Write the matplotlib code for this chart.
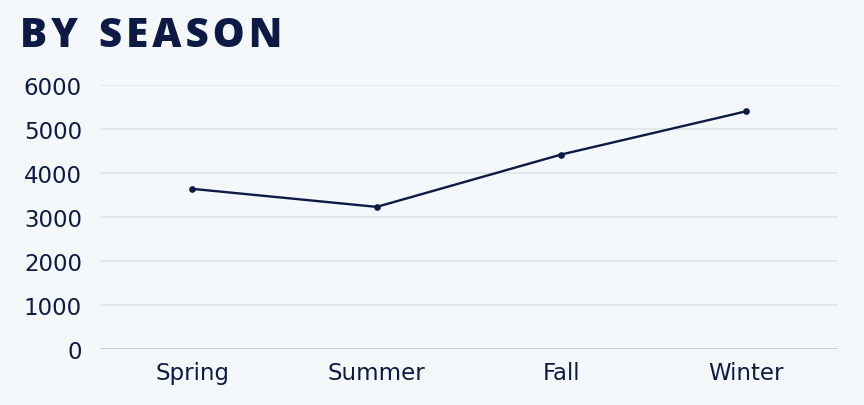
import matplotlib
matplotlib.use("Agg")
import matplotlib.pyplot as plt

seasons = ["Spring", "Summer", "Fall", "Winter"]
values = [3640, 3230, 4420, 5400]
yticks = [0, 1000, 2000, 3000, 4000, 5000, 6000]

navy = "#0d1a45"
bg = "#f5f8fa"

fig = plt.figure(figsize=(8.64, 4.06), dpi=100, facecolor=bg)
ax = fig.add_axes([100/864, 56/406, 738/864, 264/406], facecolor=bg)

x = list(range(len(seasons)))
ax.plot(x, values, color=navy, lw=1.7, marker="o", markersize=3.8, zorder=3)

ax.set_xlim(-0.5, len(seasons) - 0.5)
ax.set_ylim(0, 6000)
ax.set_yticks(yticks)
ax.set_yticklabels([str(v) for v in yticks])
ax.set_xticks(x)
ax.set_xticklabels(seasons)

for s in ["top", "right", "left", "bottom"]:
    ax.spines[s].set_visible(False)
ax.grid(axis="y", color="#dfe3e7", lw=1.1)
ax.axhline(0, color="#c9cdd5", lw=1.4, zorder=2)
ax.set_axisbelow(True)
ax.tick_params(axis="both", length=0, labelsize=16.5, labelcolor=navy)
ax.tick_params(axis="y", pad=13)
ax.tick_params(axis="x", pad=9)
for lab in ax.get_xticklabels() + ax.get_yticklabels():
    lab.set_family("DejaVu Sans")
    lab.set_fontweight("normal")

title = "\u200a".join("BY") + "  " + "\u200a".join("SEASON")
fig.text(20/864, 1 - 47/406, title, fontsize=29, fontweight=800,
         color=navy, family=["Open Sans", "DejaVu Sans"], ha="left", va="baseline")

fig.savefig("out.png", dpi=100, facecolor=bg)
